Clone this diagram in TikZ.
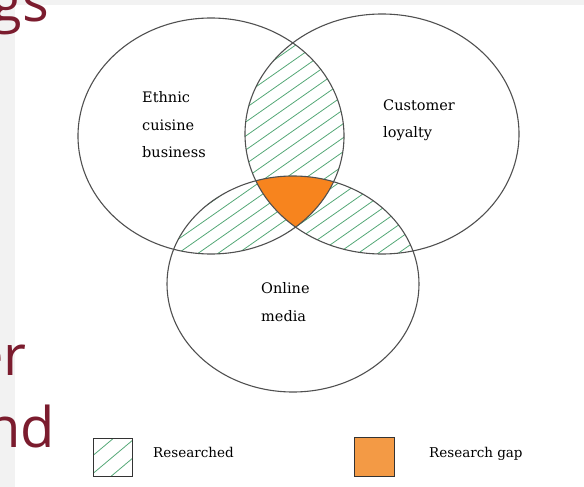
\documentclass[tikz,border=0pt]{standalone}
\usepackage{fontspec}
\newfontfamily\labelfont{DejaVu Serif}
\newfontfamily\slidefont{Open Sans}
\definecolor{ringgray}{HTML}{505050}
\definecolor{hatchgreen}{HTML}{55A877}
\definecolor{gaporange}{HTML}{F7841E}
\definecolor{keyorange}{HTML}{F39A45}
\definecolor{stripgray}{HTML}{F2F2F2}
\definecolor{slidered}{HTML}{7B1C2E}
\begin{document}
\begin{tikzpicture}[
      x=1pt, y=-1pt,
      ring/.style={draw=ringgray, line width=1.1pt},
      hatchline/.style={draw=hatchgreen, line width=0.8pt},
      lbl/.style={font=\labelfont\fontsize{14.5}{27.5}\selectfont, align=left,
                  inner sep=0, anchor=west, text=black},
      keylbl/.style={font=\labelfont\fontsize{13.5}{16}\selectfont,
                     inner sep=0, anchor=west, text=black},
      keybox/.style={draw=black!80, line width=1pt},
      slide/.style={font=\slidefont\fontsize{56}{60}\selectfont, text=slidered,
                    inner sep=0, anchor=base east}
    ]
      % page background
      \fill[stripgray] (0,0) rectangle (15,487);
      \fill[stripgray] (0,0) rectangle (584,5);
      \useasboundingbox (0,0) rectangle (584,487);
      \node[slide] (wordgs) at (49,22) {gs};
      \node[slide] (worder) at (27,375) {er};
      \node[slide] (wordnd) at (55,447) {nd};

      % researched overlaps
      \begin{scope}
        \clip (211,136) ellipse [x radius=133, y radius=118];
        \clip (382,134) ellipse [x radius=137, y radius=120];
        \foreach \c in {0,14,...,960} {
          \draw[hatchline] (0,\c) -- (600,\c-420);
        }
      \end{scope}
      \begin{scope}
        \clip (211,136) ellipse [x radius=133, y radius=118];
        \clip (293,284) ellipse [x radius=126, y radius=108];
        \foreach \c in {0,14,...,960} {
          \draw[hatchline] (0,\c) -- (600,\c-420);
        }
      \end{scope}
      \begin{scope}
        \clip (382,134) ellipse [x radius=137, y radius=120];
        \clip (293,284) ellipse [x radius=126, y radius=108];
        \foreach \c in {0,14,...,960} {
          \draw[hatchline] (0,\c) -- (600,\c-420);
        }
      \end{scope}

      % research gap
      \begin{scope}
        \clip (211,136) ellipse [x radius=133, y radius=118];
        \clip (382,134) ellipse [x radius=137, y radius=120];
        \fill[gaporange] (293,284) ellipse [x radius=126, y radius=108];
      \end{scope}

      \draw[ring] (211,136) ellipse [x radius=133, y radius=118];
      \draw[ring] (382,134) ellipse [x radius=137, y radius=120];
      \draw[ring] (293,284) ellipse [x radius=126, y radius=108];

      \node[lbl] (ethnic) at (142,125) {Ethnic\\cuisine\\business};
      \node[lbl] (loyalty) at (383,120) {Customer\\loyalty};
      \node[lbl] (online) at (261,302) {Online\\media};

      % key
      \begin{scope}
        \clip (93,438) rectangle (132,476);
        \foreach \c in {440,458,...,560} {
          \draw[hatchline] (90,\c) -- (140,\c-42);
        }
      \end{scope}
      \node[keybox, minimum width=39pt, minimum height=38pt, inner sep=0]
        (keyhatch) at (112.5,457) {};
      \node[keybox, fill=keyorange, minimum width=40pt, minimum height=39pt, inner sep=0]
        (keygap) at (374,456.5) {};
      \node[keylbl] (researched) at (153,452) {Researched};
      \node[keylbl] (gaplabel) at (429,454) {Research gap};
    \end{tikzpicture}
\end{document}
